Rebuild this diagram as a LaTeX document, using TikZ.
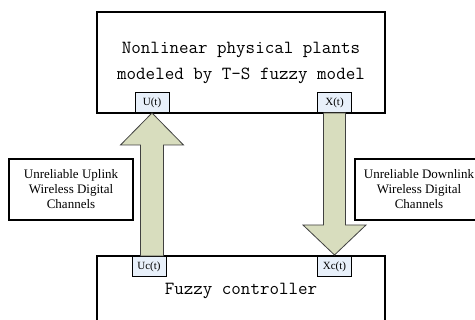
\documentclass[tikz,border=0pt]{standalone}
\usepackage{fontspec}
\setmainfont{Liberation Serif}
\usepackage{xcolor}
\usepackage{tikz}
\usetikzlibrary{positioning, calc}

\definecolor{chanfill}{RGB}{216,221,190}
\definecolor{portfill}{RGB}{232,240,250}

\begin{document}
\begin{tikzpicture}[x=1pt, y=-1pt,
    mainbox/.style={draw, line width=1.6pt, minimum width=288pt, align=center,
      font=\ttfamily\fontsize{18.5}{26}\selectfont},
    port/.style={draw, line width=1pt, fill=portfill, minimum width=34pt, minimum height=20pt,
      inner sep=0pt, font=\fontsize{11}{12}\selectfont},
    label/.style={draw, line width=1.4pt, fill=white, minimum height=61pt, align=center,
      inner sep=0pt, font=\fontsize{13}{15}\selectfont},
    chan/.style={draw=black!75, line width=0.8pt, fill=chanfill, line join=miter}]
  \useasboundingbox (0,0) rectangle (475,320);
  % plant and controller
  \node[mainbox, minimum height=101pt] (plant) at (241,62.5) {Nonlinear physical plants\\modeled by T-S fuzzy model};
  \node[mainbox, minimum height=70pt] (ctrl) at (241,291) {Fuzzy controller};
  % ports
  \node[port, anchor=south] (u) at (152,113) {U(t)};
  \node[port, anchor=south] (x) at (334.5,113) {X(t)};
  \node[port, anchor=north] (uc) at (149,256) {Uc(t)};
  \node[port, anchor=north] (xc) at (334.5,256) {Xc(t)};
  % channel boxes
  \node[label, minimum width=124pt] (up) at (71,189.5) {Unreliable Uplink\\Wireless Digital\\Channels};
  \node[label, minimum width=128pt] (down) at (419,189.5) {Unreliable Downlink\\Wireless Digital\\Channels};
  % uplink arrow
  \draw[chan] ($(u.south |- uc.north)+(-11.5,0)$) -- ($(u.south)+(-11.5,32)$) -- ++(-20,0)
    -- (u.south) -- ($(u.south)+(31.5,32)$) -- ++(-20,0) -- ($(u.south |- uc.north)+(11.5,0)$) -- cycle;
  % downlink arrow
  \draw[chan] ($(x.south)+(-11,0)$) -- ($(x.south |- xc.north)+(-11,-31)$) -- ++(-20.5,0)
    -- ($(xc.north)+(0,-1)$) -- ($(x.south |- xc.north)+(31.5,-31)$) -- ++(-20.5,0) -- ($(x.south)+(11,0)$) -- cycle;
\end{tikzpicture}
\end{document}
